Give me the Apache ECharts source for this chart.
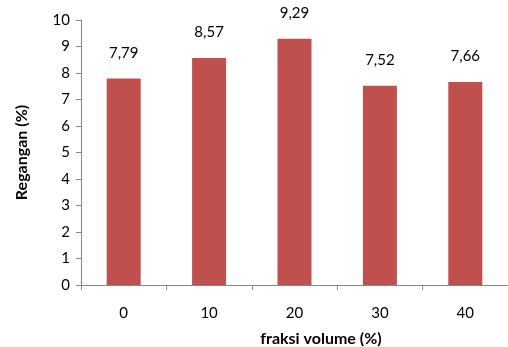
<!DOCTYPE html>
<html><head><meta charset="utf-8">
<script src="https://cdn.jsdelivr.net/npm/echarts@6/dist/echarts.min.js"></script>
<style>html,body{margin:0;padding:0;background:#fff}#c{width:508px;height:347px}</style>
</head><body><div id="c"></div>
<script>
const categories = ['0', '10', '20', '30', '40'];
const values = [7.79, 8.57, 9.29, 7.52, 7.66];
const yTicks = { min: 0, max: 10, interval: 1 };
const xName = 'fraksi volume (%)';
const yName = 'Regangan (%)';

const font = 'Lato, "Open Sans", sans-serif';
const chart = echarts.init(document.getElementById('c'));
chart.setOption({
  animation: false,
  grid: { left: 81, top: 20, width: 433, bottom: 62 },
  xAxis: {
    type: 'category', data: categories,
    axisLine: { lineStyle: { color: '#868686', width: 1 } },
    axisTick: { show: true, length: 5, lineStyle: { color: '#868686' } },
    axisLabel: { color: '#000', fontSize: 15, fontFamily: font, margin: 21 }
  },
  yAxis: {
    type: 'value', min: yTicks.min, max: yTicks.max, interval: yTicks.interval,
    name: yName, nameLocation: 'middle', nameGap: 51,
    nameTextStyle: { color: '#000', fontSize: 16, fontWeight: 'bold', fontFamily: font },
    axisLine: { show: true, lineStyle: { color: '#868686', width: 1 } },
    axisTick: { show: true, length: 5, lineStyle: { color: '#868686' } },
    axisLabel: { color: '#000', fontSize: 15, fontFamily: font, margin: 11 },
    splitLine: { show: false }
  },
  graphic: [{
    type: 'text', x: 321, y: 339,
    style: { text: xName, fill: '#000', font: 'bold 16px ' + font, textAlign: 'center', textVerticalAlign: 'middle' }
  }],
  series: [{
    type: 'bar', data: values, barWidth: 34,
    itemStyle: { color: '#c0504d' },
    label: {
      show: true, position: 'top', distance: 18, color: '#000', fontSize: 15, fontFamily: font,
      formatter: p => p.value.toFixed(2).replace('.', ',')
    }
  }]
});
</script></body></html>
